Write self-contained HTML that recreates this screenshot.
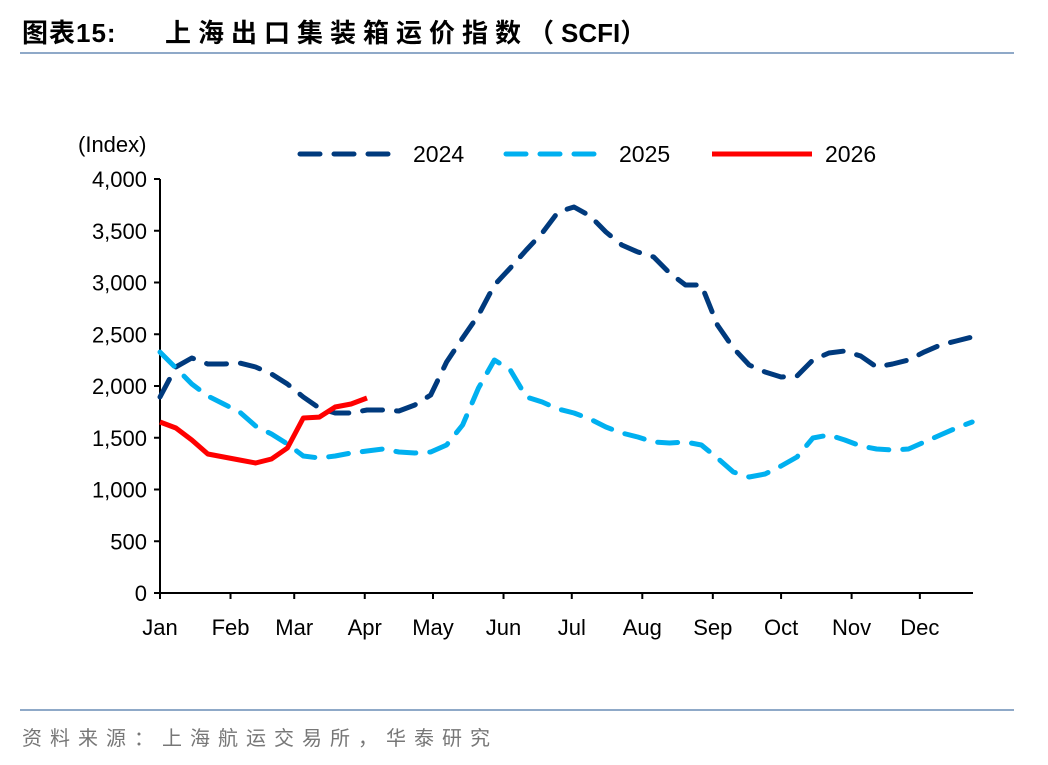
<!DOCTYPE html>
<html><head><meta charset="utf-8"><style>
body{margin:0;background:#fff;width:1048px;height:760px;overflow:hidden;font-family:"Liberation Sans","Noto Sans CJK SC",sans-serif;}
</style></head><body>
<svg id="c" width="1048" height="760" xmlns="http://www.w3.org/2000/svg">
<text x="22" y="42" font-size="26" font-weight="bold" font-family="Liberation Sans,Noto Sans CJK SC,sans-serif" fill="#000" letter-spacing="1">图表15:</text>
<text x="165" y="42" font-size="26" font-weight="bold" font-family="Liberation Sans,Noto Sans CJK SC,sans-serif" fill="#000"><tspan letter-spacing="7">上海出口集装箱运价指数（</tspan><tspan letter-spacing="0">SCFI）</tspan></text>
<line x1="20" y1="53" x2="1014" y2="53" stroke="#8fa9c8" stroke-width="2"/>
<line x1="20" y1="710" x2="1014" y2="710" stroke="#8fa9c8" stroke-width="2"/>
<text x="22" y="745" font-size="20" fill="#777" font-family="Noto Sans CJK SC,sans-serif" letter-spacing="8">资料来源：上海航运交易所，华泰研究</text>
<text x="78" y="152" font-size="22" fill="#000">(Index)</text>
<g id="axes"></g><g id="series"></g>
<g>
<line x1="300" y1="154" x2="402" y2="154" stroke="#003a7d" stroke-width="5" stroke-dasharray="20,14" stroke-linecap="round"/>
<text x="413" y="162" font-size="23">2024</text>
<line x1="506" y1="154" x2="608" y2="154" stroke="#00b0f0" stroke-width="5" stroke-dasharray="20,14" stroke-linecap="round"/>
<text x="619" y="162" font-size="23">2025</text>
<line x1="712" y1="154" x2="812" y2="154" stroke="#ff0000" stroke-width="5"/>
<text x="825" y="162" font-size="23">2026</text>
</g>
</svg>
<script>
const months=["Jan","Feb","Mar","Apr","May","Jun","Jul","Aug","Sep","Oct","Nov","Dec"];
const monthStartDays=[0,31,59,90,120,151,181,212,243,273,304,334];
const yTicks=[0,500,1000,1500,2000,2500,3000,3500,4000];
const s2024=[1894,2184,2271,2213,2213,2222,2184,2116,2019,1894,1787,1739,1739,1768,1768,1758,1816,1913,2232,2464,2686,2976,3140,3314,3478,3681,3729,3643,3488,3362,3295,3246,3092,2976,2976,2589,2367,2203,2135,2087,2097,2251,2319,2338,2290,2184,2213,2251,2329,2396,2435,2473];
const s2025=[2328,2174,2019,1903,1826,1749,1614,1536,1440,1324,1304,1324,1353,1372,1391,1362,1353,1362,1430,1623,1981,2251,2155,1894,1845,1778,1739,1681,1604,1546,1507,1459,1449,1459,1430,1304,1169,1121,1150,1227,1314,1498,1527,1478,1420,1391,1382,1391,1459,1527,1594,1652];
const s2026=[1652,1594,1478,1343,1314,1285,1256,1295,1401,1691,1700,1797,1826,1884];
const NS="http://www.w3.org/2000/svg";
const x0=160,pxDay=2.275,y0=593,yTop=179,yMax=4000;
const xDay=d=>x0+d*pxDay;
const xWeek=i=>xDay(i*7);
const y=v=>y0-(v/yMax)*(y0-yTop);
const axes=document.getElementById('axes'),ser=document.getElementById('series');
function mk(tag,attrs,parent){const e=document.createElementNS(NS,tag);for(const k in attrs)e.setAttribute(k,attrs[k]);parent.appendChild(e);return e;}
let ax=mk('line',{x1:x0,y1:yTop,x2:x0,y2:y0,stroke:'#000','stroke-width':2},axes);


let bx=mk('line',{x1:x0,y1:y0,x2:973,y2:y0,stroke:'#000','stroke-width':2},axes);


yTicks.forEach(v=>{
 mk('line',{x1:x0-6,y1:y(v),x2:x0,y2:y(v),stroke:'#000','stroke-width':2},axes);
 const t=mk('text',{x:x0-13,y:y(v)+8,'font-size':22,'text-anchor':'end'},axes);
 t.textContent=v.toLocaleString('en-US');
 
 
});
months.forEach((m,i)=>{
 const xx=xDay(monthStartDays[i]);
 mk('line',{x1:xx,y1:y0,x2:xx,y2:y0+6,stroke:'#000','stroke-width':2},axes);
 const t=mk('text',{x:xx,y:y0+42,'font-size':22,'text-anchor':'middle'},axes);
 t.textContent=m;
 
 
});
function line(data,color,dash,name){
 const d=data.map((v,i)=>(i?'L':'M')+xWeek(i).toFixed(1)+','+y(v).toFixed(1)).join(' ');
 const p=mk('path',{d:d,fill:'none',stroke:color,'stroke-width':5,'stroke-linejoin':'round','stroke-linecap':dash?'round':'butt'},ser);
 if(dash)p.setAttribute('stroke-dasharray','20,14');
 
 
}
line(s2024,'#003a7d',true,'series-2024');
line(s2025,'#00b0f0',true,'series-2025');
line(s2026,'#ff0000',false,'series-2026');
</script>
</body></html>
